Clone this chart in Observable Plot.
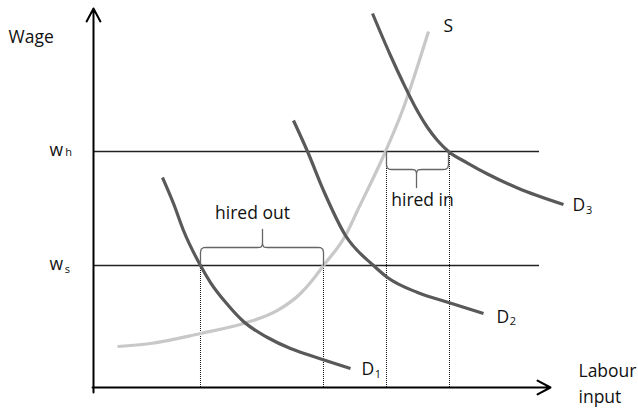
<!DOCTYPE html>
<html><head><meta charset="utf-8">
<script src="https://cdn.jsdelivr.net/npm/d3@7"></script>
<script src="https://cdn.jsdelivr.net/npm/@observablehq/plot@0.6"></script>
<style>body{margin:0;background:#fff;}</style>
</head><body><div id="chart"></div>
<script>
// Wage levels
const wageLevels = [{name: "h", y: 62.27}, {name: "s", y: 32.19}];
const wageLineEnd = 97.6;

// Supply curve S
const supplyX = [5.25, 12.47, 23.41, 32.82, 40.26, 45.30, 47.48, 50.33, 55.14, 57.77, 63.89, 67.61, 73.30];
const supplyY = [10.82, 11.61, 14.25, 16.89, 20.32, 24.80, 27.70, 32.19, 40.11, 46.70, 62.27, 73.09, 93.93];

// Demand curves
const d1X = [15.10, 17.51, 19.69, 23.41, 25.60, 29.32, 32.82, 38.07, 43.11, 47.48, 56.24];
const d1Y = [55.41, 48.55, 41.42, 32.19, 27.70, 21.90, 17.41, 13.19, 10.29, 8.44, 5.01];
const d2X = [43.76, 46.83, 50.33, 55.14, 61.27, 64.33, 70.90, 77.68, 85.34];
const d2Y = [70.45, 62.27, 51.98, 40.11, 32.19, 29.02, 25.07, 22.43, 19.53];
const d3X = [61.05, 64.99, 67.83, 70.46, 73.09, 75.27, 77.68, 81.84, 86.21, 92.78, 102.84];
const d3Y = [98.68, 87.60, 80.21, 73.88, 68.60, 65.17, 62.27, 59.23, 56.33, 52.64, 48.28];

// Dotted drop lines (x, top)
const dropX = [23.41, 50.33, 64.11, 77.90];
const dropTop = [32.19, 32.19, 62.27, 62.27];

// Braces: x1, x2, base, level, tip
const braceNames = ["hired out", "hired in"];
const braceX1 = [23.41, 64.11];
const braceX2 = [50.33, 77.68];
const braceBase = [32.19, 62.27];
const braceLevel = [36.94, 57.52];
const braceTip = [41.69, 52.77];
const braceMid = [36.98, 70.68];

// Axes
const axisArrows = [
  {x1: 0, y1: -1.3, x2: 0, y2: 100},
  {x1: -0.2, y1: 0, x2: 100, y2: 0}
];

// Labels
const labels = [
  {t: "Wage", x: -18.6, y: 91.0, s: 17.5},
  {t: "w", x: -9.63, y: 61.2, s: 17.5},
  {t: "h", x: -6.2, y: 61.2, s: 11},
  {t: "w", x: -9.63, y: 31.13, s: 17.5},
  {t: "s", x: -6.3, y: 30.34, s: 11},
  {t: "S", x: 76.59, y: 93.93, s: 17.5},
  {t: "D", x: 58.64, y: 3.17, s: 17.5},
  {t: "1", x: 61.55, y: 2.6, s: 11},
  {t: "D", x: 88.18, y: 17.15, s: 17.5},
  {t: "2", x: 91.1, y: 16.6, s: 11},
  {t: "D", x: 104.81, y: 46.44, s: 17.5},
  {t: "3", x: 107.75, y: 45.9, s: 11},
  {t: "Labour", x: 106.13, y: 2.90, s: 17.5},
  {t: "input", x: 106.13, y: -3.96, s: 17.5}
];
const braceLabels = [
  {t: "hired out", x: 34.79, y: 44.59},
  {t: "hired in", x: 71.99, y: 47.76}
];

const toPts = (X, Y, name) => X.map((x, i) => ({x, y: Y[i], name}));
const supply = toPts(supplyX, supplyY, "S");
const demand = [...toPts(d1X, d1Y, "D1"), ...toPts(d2X, d2Y, "D2"), ...toPts(d3X, d3Y, "D3")];
const drops = dropX.map((x, i) => ({x, top: dropTop[i]}));

function bracePoints(i) {
  const x1 = braceX1[i], x2 = braceX2[i], b = braceBase[i], l = braceLevel[i], t = braceTip[i], m = braceMid[i];
  const d = Math.sign(t - l);
  const n = braceNames[i];
  return [
    [x1, b], [x1, l - d * 1.3], [x1 + 0.15, l - d * 0.45], [x1 + 0.6, l - d * 0.05], [x1 + 1.3, l],
    [m - 1.1, l], [m - 0.35, l + d * 0.1], [m - 0.05, l + d * 0.6], [m, l + d * 1.3], [m, t],
    [m, l + d * 1.3], [m + 0.05, l + d * 0.6], [m + 0.35, l + d * 0.1], [m + 1.1, l],
    [x2 - 1.3, l], [x2 - 0.6, l - d * 0.05], [x2 - 0.15, l - d * 0.45], [x2, l - d * 1.3], [x2, b]
  ].map(([x, y]) => ({x, y, name: n}));
}
const braces = [...bracePoints(0), ...bracePoints(1)];

const txt = (size) => Plot.text(labels.filter(d => d.s === size), {
  x: "x", y: "y", text: "t", textAnchor: "start", lineAnchor: "bottom",
  fontSize: size, fill: "#111"
});

const chart = Plot.plot({
  width: 638, height: 409,
  marginLeft: 93, marginRight: 88, marginTop: 8, marginBottom: 22,
  x: {domain: [0, 100], axis: null},
  y: {domain: [0, 100], axis: null},
  style: {fontFamily: "'Open Sans', sans-serif", background: "white", overflow: "visible"},
  marks: [
    Plot.ruleY(wageLevels, {y: "y", x1: 0, x2: wageLineEnd, stroke: "#222", strokeWidth: 1.3}),
    Plot.ruleX(drops, {x: "x", y1: 0, y2: "top", stroke: "#111", strokeWidth: 1, strokeDasharray: "1,1"}),
    Plot.line(supply, {x: "x", y: "y", stroke: "#c8c8c8", strokeWidth: 3.2, curve: "monotone-x", strokeLinecap: "butt"}),
    Plot.line(demand, {x: "x", y: "y", z: "name", stroke: "#595959", strokeWidth: 3.2, curve: "monotone-x", strokeLinecap: "butt"}),
    Plot.line(braces, {x: "x", y: "y", z: "name", stroke: "#666", strokeWidth: 1.3}),
    Plot.arrow(axisArrows, {x1: "x1", y1: "y1", x2: "x2", y2: "y2", stroke: "#000", strokeWidth: 2, headAngle: 56, headLength: 11}),
    txt(17.5), txt(11),
    Plot.text(braceLabels, {x: "x", y: "y", text: "t", lineAnchor: "bottom", fontSize: 17.5, fill: "#111"})
  ]
});
document.getElementById("chart").append(chart);
</script>
</body></html>
